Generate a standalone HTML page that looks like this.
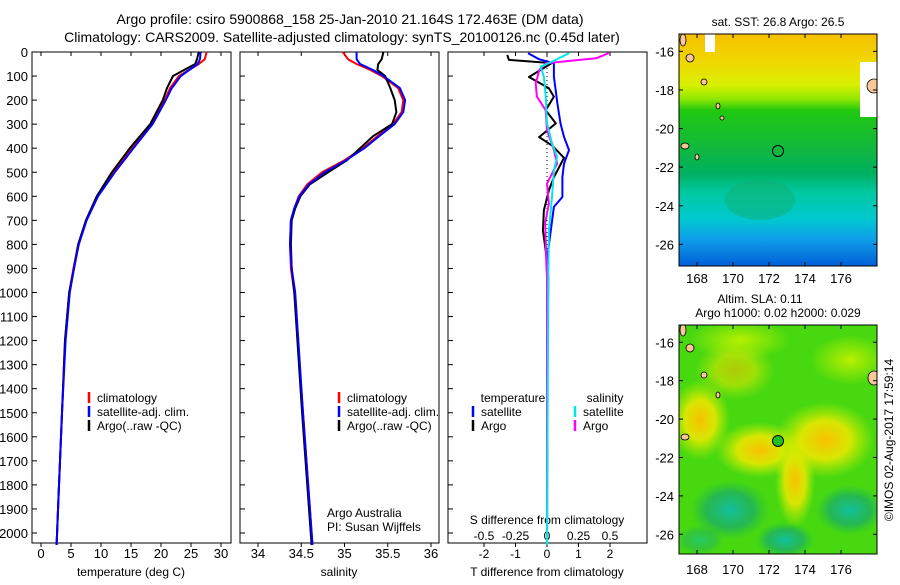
<!DOCTYPE html>
<html><head><meta charset="utf-8"><style>
body{margin:0;background:#fff;font-family:"Liberation Sans",sans-serif}
svg text{font-family:"Liberation Sans",sans-serif;fill:#000}
</style></head><body>
<svg id="c" width="900" height="580" xmlns="http://www.w3.org/2000/svg">
<defs>
<linearGradient id="sst" x1="0" y1="0" x2="0" y2="1">
<stop offset="0" stop-color="#f5c000"/><stop offset="0.12" stop-color="#f0d800"/><stop offset="0.22" stop-color="#d8f000"/>
<stop offset="0.28" stop-color="#90e800"/><stop offset="0.33" stop-color="#20c810"/><stop offset="0.5" stop-color="#10b840"/><stop offset="0.6" stop-color="#00b060"/>
<stop offset="0.68" stop-color="#00c8a0"/><stop offset="0.8" stop-color="#00c8d0"/><stop offset="0.88" stop-color="#10a0e8"/><stop offset="1" stop-color="#0060d8"/>
</linearGradient>
<radialGradient id="yb"><stop offset="0" stop-color="#f8c000"/><stop offset="0.5" stop-color="#e8e800" stop-opacity="0.9"/><stop offset="1" stop-color="#c0f000" stop-opacity="0"/></radialGradient>
<radialGradient id="lb"><stop offset="0" stop-color="#b8f000"/><stop offset="1" stop-color="#b8f000" stop-opacity="0"/></radialGradient>
<radialGradient id="tb"><stop offset="0" stop-color="#10c0a0"/><stop offset="0.6" stop-color="#20b060" stop-opacity="0.8"/><stop offset="1" stop-color="#20c040" stop-opacity="0"/></radialGradient>
<clipPath id="m1"><rect x="679" y="34" width="198" height="232"/></clipPath>
<clipPath id="m2"><rect x="679" y="325" width="198" height="229"/></clipPath>
</defs>
<text x="350" y="24" font-size="14" text-anchor="middle">Argo profile: csiro 5900868_158 25-Jan-2010 21.164S 172.463E (DM data)</text>
<text x="342" y="42" font-size="14" text-anchor="middle">Climatology: CARS2009. Satellite-adjusted climatology: synTS_20100126.nc (0.45d later)</text>
<g id="plots"></g>
<g>
<text x="778" y="26" font-size="12" text-anchor="middle">sat. SST: 26.8 Argo: 26.5</text>
<g clip-path="url(#m1)">
<rect x="679" y="34" width="198" height="232" fill="url(#sst)"/>
<ellipse cx="760" cy="200" rx="35" ry="20" fill="#10b070" opacity="0.5"/>
<rect x="705" y="34" width="10" height="18" fill="#fff"/>
<rect x="860" y="62" width="17" height="55" fill="#fff"/>
<ellipse cx="874" cy="86" rx="7" ry="7" fill="#f8c898" stroke="#000" stroke-width="0.8"/>
<ellipse cx="683" cy="40" rx="3" ry="6" fill="#f8c898" stroke="#000" stroke-width="0.8"/>
<ellipse cx="690" cy="58" rx="4" ry="4" fill="#f8c898" stroke="#000" stroke-width="0.8"/>
<ellipse cx="704" cy="82" rx="3" ry="3" fill="#f8c898" stroke="#000" stroke-width="0.8"/>
<ellipse cx="718" cy="106" rx="2" ry="3" fill="#f8c898" stroke="#000" stroke-width="0.8"/>
<ellipse cx="722" cy="118" rx="2" ry="2" fill="#f8c898" stroke="#000" stroke-width="0.8"/>
<ellipse cx="685" cy="146" rx="4" ry="3" fill="#f8c898" stroke="#000" stroke-width="0.8"/>
<ellipse cx="697" cy="157" rx="2" ry="3" fill="#f8c898" stroke="#000" stroke-width="0.8"/>
</g>
<rect x="679" y="34" width="198" height="232" fill="none" stroke="#000"/>
<circle cx="778" cy="151" r="5.5" fill="none" stroke="#000"/>
</g>
<g>
<text x="760" y="303" font-size="12" text-anchor="middle">Altim. SLA: 0.11</text>
<text x="778" y="317" font-size="12" text-anchor="middle">Argo h1000: 0.02 h2000: 0.029</text>
<g clip-path="url(#m2)">
<rect x="679" y="325" width="198" height="229" fill="#48d810"/>
<ellipse cx="740" cy="340" rx="50" ry="20" fill="url(#lb)"/>
<ellipse cx="850" cy="360" rx="40" ry="25" fill="url(#lb)"/>
<ellipse cx="735" cy="370" rx="40" ry="30" fill="url(#yb)" opacity="0.6"/>
<ellipse cx="700" cy="420" rx="30" ry="40" fill="url(#yb)"/>
<ellipse cx="760" cy="450" rx="45" ry="28" fill="url(#yb)"/>
<ellipse cx="795" cy="480" rx="20" ry="48" fill="url(#yb)"/>
<ellipse cx="825" cy="440" rx="50" ry="38" fill="url(#yb)"/>
<ellipse cx="730" cy="510" rx="40" ry="30" fill="url(#tb)"/>
<ellipse cx="850" cy="510" rx="35" ry="25" fill="url(#tb)"/>
<ellipse cx="785" cy="540" rx="30" ry="18" fill="url(#tb)"/>
<ellipse cx="700" cy="540" rx="25" ry="15" fill="url(#tb)" opacity="0.6"/>
<ellipse cx="683" cy="330" rx="3" ry="6" fill="#f8c898" stroke="#000" stroke-width="0.8"/>
<ellipse cx="690" cy="348" rx="4" ry="4" fill="#f8c898" stroke="#000" stroke-width="0.8"/>
<ellipse cx="704" cy="375" rx="3" ry="3" fill="#f8c898" stroke="#000" stroke-width="0.8"/>
<ellipse cx="718" cy="395" rx="2" ry="3" fill="#f8c898" stroke="#000" stroke-width="0.8"/>
<ellipse cx="685" cy="437" rx="4" ry="3" fill="#f8c898" stroke="#000" stroke-width="0.8"/>
<ellipse cx="874" cy="378" rx="6" ry="7" fill="#f8c898" stroke="#000" stroke-width="0.8"/>
</g>
<rect x="679" y="325" width="198" height="229" fill="none" stroke="#000"/>
<circle cx="778" cy="441" r="5.5" fill="#20c020" stroke="#000"/>
</g>
<text transform="translate(893,440) rotate(-90)" font-size="12" text-anchor="middle">©IMOS 02-Aug-2017 17:59:14</text>
<text x="327" y="517" font-size="12">Argo Australia</text>
<text x="327" y="531" font-size="12">PI: Susan Wijffels</text>
</svg>
<script>
const tDepth = [0,30,50,100,150,200,300,400,500,600,700,800,900,1000,1200,1500,1800,2050];
const tArgo  = [26.3,26.0,25.7,22.0,21.0,20.3,18.2,14.8,11.8,9.3,7.5,6.2,5.5,4.7,4.0,3.5,3.0,2.6];
const tClim  = [27.6,27.3,26.3,23.0,21.5,20.6,18.4,15.2,12.0,9.3,7.5,6.2,5.4,4.7,4.0,3.5,3.0,2.6];
const tSat   = [26.6,26.5,26.1,23.3,21.8,20.8,18.6,15.4,12.3,9.5,7.6,6.3,5.5,4.8,4.1,3.5,3.0,2.6];
const sDepth = [0,30,50,75,100,150,200,250,300,350,400,450,500,550,600,650,700,800,900,1000,1500,2050];
const sArgo  = [35.45,35.43,35.39,35.38,35.47,35.53,35.58,35.60,35.55,35.33,35.18,35.03,34.81,34.60,34.49,34.43,34.39,34.38,34.39,34.42,34.51,34.62];
const sClim  = [34.98,35.04,35.14,35.30,35.43,35.62,35.68,35.66,35.56,35.38,35.21,35.00,34.74,34.57,34.47,34.42,34.38,34.37,34.38,34.42,34.52,34.63];
const sSat   = [35.14,35.14,35.18,35.33,35.45,35.64,35.70,35.68,35.58,35.40,35.23,35.02,34.77,34.59,34.48,34.42,34.38,34.37,34.39,34.43,34.52,34.63];
const dtArgoDepth = [12,33,46,104,151,186,242,297,354,390,440,480,520,575,658,742,825,936,1200,1600,2050];
const dtArgo = [-1.26,-1.21,0.15,-0.57,0.06,0.22,-0.04,0.28,-0.25,0.17,0.54,0.38,0.22,0.06,-0.1,-0.13,-0.04,0.04,0.02,0.01,0];
const dtSatDepth = [5,30,47,103,214,297,353,408,464,520,603,644,742,880,936,1400,2050];
const dtSat = [-0.6,-0.25,0.22,0.22,0.33,0.43,0.54,0.70,0.54,0.49,0.49,0.22,0.12,-0.02,0.01,0.0,0];
const dsArgoDepth = [5,26,47,75,130,186,242,325,408,464,547,630,714,880,936,1400,2050];
const dsArgo = [0.49,0.39,-0.01,-0.06,-0.09,-0.08,-0.01,0.0,0.055,0.08,0.0,0.015,-0.015,-0.005,0.0,0,0];
const dsSatDepth = [5,33,61,103,186,297,380,436,492,603,742,936,2050];
const dsSat = [0.175,0.07,-0.05,-0.025,-0.01,0.0,0.04,0.08,0.055,0.04,0.015,0.01,0];
const depthTicks = [0,100,200,300,400,500,600,700,800,900,1000,1100,1200,1300,1400,1500,1600,1700,1800,1900,2000];
const tTicks = [0,5,10,15,20,25,30];
const sTicks = [34,34.5,35,35.5,36];
const dTTicks = [-2,-1,0,1,2];
const dSTicks = [-0.5,-0.25,0,0.25,0.5];
const latTicks = [-16,-18,-20,-22,-24,-26];
const lonTicks = [168,170,172,174,176];

const NS='http://www.w3.org/2000/svg';
const g=document.getElementById('plots');
const svg=document.getElementById('c');
function el(tag,a,parent){const e=document.createElementNS(NS,tag);for(const k in a)e.setAttribute(k,a[k]);(parent||g).appendChild(e);return e;}
const TOP=52, BOT=543;
const yD=d=>TOP+d*0.2405;
function xLin(v0,x0,v1,x1){return v=>x0+(v-v0)*(x1-x0)/(v1-v0);}
const xT=xLin(0,41,30,221), xS=xLin(34,258,36,431), xDT=xLin(0,547,1,578.5), xDS=xLin(0,547,0.25,578.5);
const panels=[[32,231],[240,439],[448,647]];
panels.forEach((p,i)=>{
  const r=el('rect',{x:p[0],y:TOP,width:p[1]-p[0],height:BOT-TOP,fill:'none',stroke:'#000'});
  
  
});
depthTicks.forEach(d=>{
  const y=yD(d);
  panels.forEach(p=>{el('line',{x1:p[0],x2:p[0]+5,y1:y,y2:y,stroke:'#000'});});
  const t=el('text',{x:28,y:y+5,'font-size':13,'text-anchor':'end'});t.textContent=d;
  
  
});
function xticks(ticks,fx,yLab,fs){ticks.forEach(v=>{const x=fx(v);
  el('line',{x1:x,x2:x,y1:BOT,y2:BOT+4,stroke:'#000'});el('line',{x1:x,x2:x,y1:TOP,y2:TOP+4,stroke:'#000'});
  const t=el('text',{x:x,y:yLab,'font-size':fs,'text-anchor':'middle'});t.textContent=v;
  
  });}
xticks(tTicks,xT,558,13);
xticks(sTicks,xS,558,13);
xticks(dTTicks,xDT,558,12);
dSTicks.forEach(v=>{const t=el('text',{x:xDS(v),y:540,'font-size':12,'text-anchor':'middle'});t.textContent=v;
  
  });
function lab(x,y,s,name,fs){const t=el('text',{x:x,y:y,'font-size':fs||12,'text-anchor':'middle'});t.textContent=s;
  
  }
lab(131,576,'temperature (deg C)','x-axis-title-temperature');
lab(339,576,'salinity','x-axis-title-salinity');
lab(547,576,'T difference from climatology','x-axis-title-t-diff');
lab(547,524,'S difference from climatology','x-axis-title-s-diff');
el('line',{x1:xDT(0),x2:xDT(0),y1:TOP,y2:BOT,stroke:'#000','stroke-dasharray':'1,3'});
function line(depths,vals,fx,color,name,w){
  const pts=depths.map((d,i)=>fx(vals[i]).toFixed(1)+','+yD(d).toFixed(1)).join(' ');
  const p=el('polyline',{points:pts,fill:'none',stroke:color,'stroke-width':w||2,'stroke-linejoin':'round'});
  
  
}
line(tDepth,tClim,xT,'#ff0000','temp-climatology-line');
line(tDepth,tArgo,xT,'#000','temp-argo-line');
line(tDepth,tSat,xT,'#0000ff','temp-satellite-line');
line(sDepth,sClim,xS,'#ff0000','sal-climatology-line');
line(sDepth,sArgo,xS,'#000','sal-argo-line');
line(sDepth,sSat,xS,'#0000ff','sal-satellite-line');
line(dtArgoDepth,dtArgo,xDT,'#000','t-diff-argo-line');
line(dtSatDepth,dtSat,xDT,'#0000ff','t-diff-satellite-line');
line(dsArgoDepth,dsArgo,xDS,'#ff00ff','s-diff-argo-line');
line(dsSatDepth,dsSat,xDS,'#00e8e8','s-diff-satellite-line');
function leg(x,y,color,txt,name){
  el('line',{x1:x,x2:x,y1:y-10,y2:y+1,stroke:color,'stroke-width':2.5});
  const t=el('text',{x:x+8,y:y,'font-size':12});t.textContent=txt;
  
  }
[89,339].forEach(x=>{
  leg(x,402,'#ff0000','climatology','legend-climatology');
  leg(x,416,'#0000ff','satellite-adj. clim.','legend-satellite');
  leg(x,430,'#000','Argo(..raw -QC)','legend-argo');
});
lab(513,402,'temperature','legend-temperature-header');
lab(605,402,'salinity','legend-salinity-header');
leg(473,416,'#0000ff','satellite','legend-t-satellite');
leg(473,430,'#000','Argo','legend-t-argo');
leg(575,416,'#00e8e8','satellite','legend-s-satellite');
leg(575,430,'#ff00ff','Argo','legend-s-argo');
function mapAxes(y0,y1,latTop,pxLat,labY){
  const fx=v=>679+(v-167)*18;
  lonTicks.forEach(v=>{const x=fx(v);el('line',{x1:x,x2:x,y1:y1,y2:y1-4,stroke:'#000'});el('line',{x1:x,x2:x,y1:y0,y2:y0+4,stroke:'#000'});
    const t=el('text',{x:x,y:labY,'font-size':13,'text-anchor':'middle'});t.textContent=v;
    
    });
  latTicks.forEach(v=>{const y=y0+(latTop-v)*pxLat;el('line',{x1:679,x2:683,y1:y,y2:y,stroke:'#000'});el('line',{x1:877,x2:873,y1:y,y2:y,stroke:'#000'});
    const t=el('text',{x:674,y:y+5,'font-size':13,'text-anchor':'end'});t.textContent=v;
    
    });
}
mapAxes(34,266,-15.1,19.3,283);
mapAxes(325,554,-15.1,19.2,574);
svg.appendChild(g);
</script>
</body></html>
